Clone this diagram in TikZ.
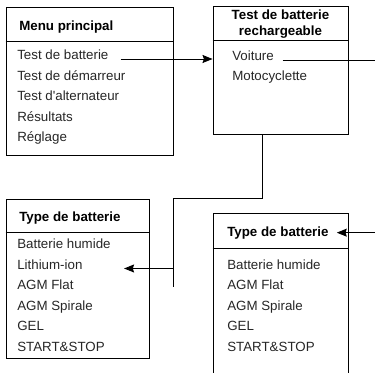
\documentclass[tikz,border=0pt]{standalone}
\usepackage{fontspec}
\setmainfont{Liberation Sans}
\usetikzlibrary{arrows.meta, fit}

\begin{document}
\begin{tikzpicture}[x=0.75pt, y=-0.75pt,
        box/.style = {draw, line width=0.7pt, inner sep=0pt, fit={#1}},
        rule/.style = {line width=0.7pt},
        item/.style = {anchor=base west, inner sep=0pt, text height=6pt, text depth=4.5pt,
                       text=black!85, font=\fontsize{10}{12}\selectfont},
        head/.style = {item, text=black, text height=7.5pt, text depth=1pt,
                       font=\fontsize{10}{12}\selectfont\bfseries},
        arr/.style = {rule, -{Stealth[length=7.5pt, width=6pt, inset=1pt]}}]
                \useasboundingbox (0,0) rectangle (375,373);
                \clip (0,0) rectangle (375,373);

                \node[box={(6,7) (173,155)}] (B1) {};
                \node[head] at (19,31) (t1) {Menu principal};
                \node[item] at (17,60) (m1) {Test de batterie};
                \node[item] at (17,80.5) (m2) {Test de démarreur};
                \node[item] at (17,101) (m3) {Test d\textquotesingle alternateur};
                \node[item] at (17,121.5) (m4) {Résultats};
                \node[item] at (17,142) (m5) {Réglage};

                \node[box={(213,6) (348,134)}] (B2) {};
                \node[head, anchor=base] at (280.5,20) (t2a) {Test de batterie};
                \node[head, anchor=base] at (280.5,36) (t2b) {rechargeable};
                \node[item] at (232,61) (v1) {Voiture};
                \node[item] at (232,80.5) (v2) {Motocyclette};

                \node[box={(6,199) (149,358)}] (B3) {};
                \node[head] at (19,221.5) (t3) {Type de batterie};
                \node[item] at (17,249) (l1) {Batterie humide};
                \node[item] at (17,269.5) (l2) {Lithium-ion};
                \node[item] at (17,290) (l3) {AGM Flat};
                \node[item] at (17,310.5) (l4) {AGM Spirale};
                \node[item] at (17,331) (l5) {GEL};
                \node[item] at (17,351.5) (l6) {START\&STOP};

                \node[box={(213,213) (348,400)}] (B4) {};
                \node[head] at (227,237) (t4) {Type de batterie};
                \node[item] at (227,269.5) (k1) {Batterie humide};
                \node[item] at (227,290) (k2) {AGM Flat};
                \node[item] at (227,310.5) (k3) {AGM Spirale};
                \node[item] at (227,331) (k4) {GEL};
                \node[item] at (227,351.5) (k5) {START\&STOP};

                \draw [rule] (B1.west |- 0,41) -- (B1.east |- 0,41);
                \draw [rule] (B2.west |- 0,40) -- (B2.east |- 0,40);
                \draw [rule] (B3.west |- 0,232) -- (B3.east |- 0,232);
                \draw [rule] (B4.west |- 0,248) -- (B4.east |- 0,248);

                \coordinate (r1) at (376,0);
                \coordinate (j1) at (262,198);
                \coordinate (j2) at (173,198);
                \coordinate (j3) at (173,287);

                \draw [arr, shorten <=9pt] (m1.east) -- (B2.west |- m1.east);
                \draw [rule, shorten <=6.5pt] (v1.east) -- (v1.east -| r1);
                \draw [arr, shorten >=6pt] (r1 |- t4.east) -- (t4.east);
                \draw [rule] (B2.south -| j1) -- (j1) -- (j2) -- (j3);
                \draw [arr, shorten >=31pt] (j2 |- l2.east) -- (l2.east);
\end{tikzpicture}
\end{document}
